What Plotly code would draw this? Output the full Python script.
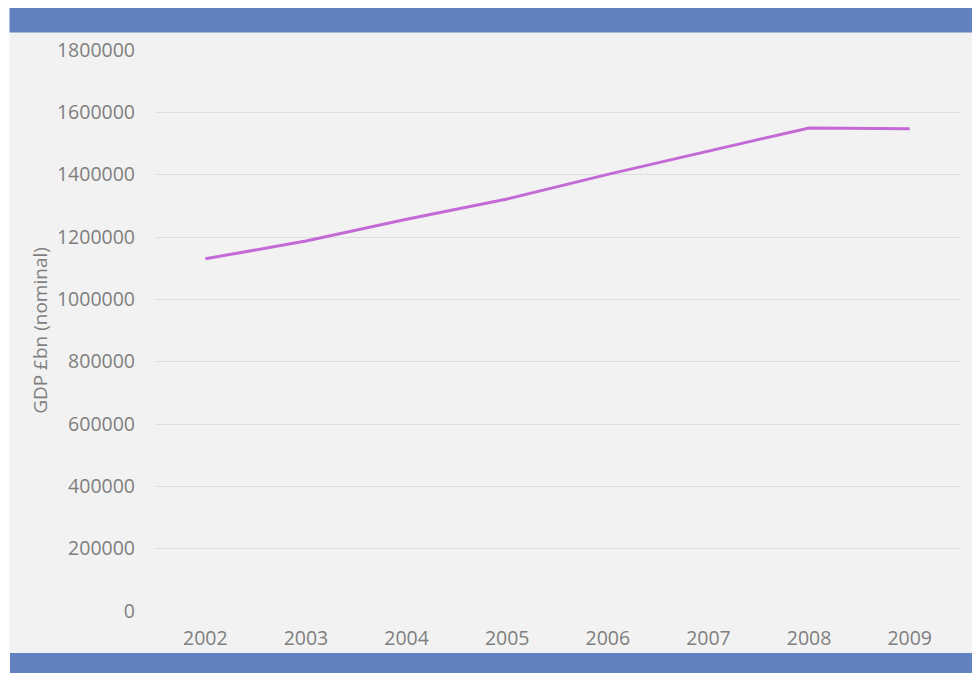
import plotly.graph_objects as go

# UK nominal GDP by year
years = ["2002", "2003", "2004", "2005", "2006", "2007", "2008", "2009"]
gdp = [1130000, 1187000, 1257000, 1322000, 1401000, 1476000, 1550000, 1547000]
y_ticks = [0, 200000, 400000, 600000, 800000, 1000000, 1200000, 1400000, 1600000, 1800000]

W, H = 972, 673
L, R, T, B = 155, 12, 50, 62
pw, ph = W - L - R, H - T - B


def px(x):
    return (x - L) / pw


def py(y):
    return (H - B - y) / ph


FONT = "Open Sans"
GREY = "#7f7f7f"
BLUE = "#6281c0"

fig = go.Figure(
    go.Scatter(
        x=years,
        y=gdp,
        mode="lines",
        line=dict(color="#c46ad6", width=3),
        hoverinfo="x+y",
    )
)

shapes = [
    # white frame around the panel
    dict(type="rect", xref="paper", yref="paper", x0=px(0), x1=px(9.5), y0=py(H), y1=py(0),
         fillcolor="white", line_width=0, layer="below"),
    dict(type="rect", xref="paper", yref="paper", x0=px(0), x1=px(W), y0=py(8), y1=py(0),
         fillcolor="white", line_width=0, layer="below"),
    # blue header and footer bands
    dict(type="rect", xref="paper", yref="paper", x0=px(9.5), x1=px(W), y0=py(32.5), y1=py(8),
         fillcolor=BLUE, line_width=0, layer="above"),
    dict(type="rect", xref="paper", yref="paper", x0=px(10), x1=px(W), y0=py(H), y1=py(653),
         fillcolor=BLUE, line_width=0, layer="above"),
]

fig.update_layout(
    width=W,
    height=H,
    autosize=False,
    margin=dict(l=L, r=R, t=T, b=B, pad=0),
    paper_bgcolor="#f2f2f2",
    plot_bgcolor="#f2f2f2",
    showlegend=False,
    font=dict(family=FONT, size=19, color=GREY),
    shapes=shapes,
    xaxis=dict(
        type="category",
        range=[-0.5, len(years) - 0.5],
        showgrid=False,
        zeroline=False,
        showline=False,
        ticks="",
        ticklabelstandoff=13,
        tickfont=dict(family=FONT, size=19.5, color=GREY),
    ),
    yaxis=dict(
        range=[0, 1800000],
        tickvals=y_ticks,
        ticktext=[str(v) for v in y_ticks],
        showgrid=True,
        gridcolor="#dedede",
        gridwidth=1,
        zeroline=False,
        showline=False,
        ticks="",
        ticklabelstandoff=19,
        tickfont=dict(family=FONT, size=19.5, color=GREY),
        title=dict(text="GDP £bn (nominal)", font=dict(family=FONT, size=19, color=GREY), standoff=4),
    ),
)

fig.write_html("out.html", config={"responsive": False})
